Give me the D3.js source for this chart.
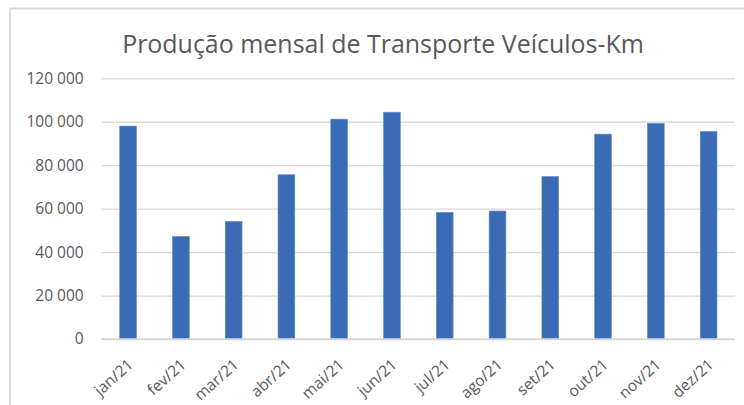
<!DOCTYPE html>
<html>
<head>
<meta charset="utf-8">
<script src="https://cdn.jsdelivr.net/npm/d3@7"></script>
<style>
  html, body { margin: 0; padding: 0; background: #fff; }
  svg { display: block; }
</style>
</head>
<body>
<svg id="chart" width="744" height="405"></svg>
<script>
const title = "Produção mensal de Transporte Veículos-Km";
const months = ["jan/21","fev/21","mar/21","abr/21","mai/21","jun/21","jul/21","ago/21","set/21","out/21","nov/21","dez/21"];
const values = [98000, 47200, 54100, 75600, 101200, 104400, 58300, 58900, 74800, 94300, 99200, 95500];
const yTicks = [0, 20000, 40000, 60000, 80000, 100000, 120000];

(function () {
const svg = d3.select("#chart");
const W = 744, H = 405;
const pL = 101.7, pR = 735, pT = 78.3, pB = 339;
const txtColor = "#595959", gridColor = "#d9d9d9";
const font = "'Open Sans', 'Noto Sans', sans-serif";

// frame border (top and left visible)
svg.append("line").attr("x1", 10).attr("x2", W).attr("y1", 8.5).attr("y2", 8.5)
  .attr("stroke", gridColor).attr("stroke-width", 2);
svg.append("line").attr("x1", 10).attr("x2", 10).attr("y1", 8.5).attr("y2", H)
  .attr("stroke", gridColor).attr("stroke-width", 2);

const x = d3.scaleBand().domain(months).range([pL, pR])
  .paddingInner(0.683).paddingOuter(0.3415);
const y = d3.scaleLinear().domain([0, 120000]).range([pB, pT]);

const fmt = v => d3.format(",")(v).replace(/,/g, " ");

// gridlines via axis
const yAxis = d3.axisLeft(y).tickValues(yTicks).tickSize(-(pR - pL)).tickFormat(fmt).tickPadding(18);
const gy = svg.append("g").attr("transform", `translate(${pL},0)`).call(yAxis);
gy.select(".domain").remove();
gy.selectAll(".tick line").attr("stroke", gridColor).attr("stroke-width", 1.3);
gy.selectAll(".tick text").attr("fill", txtColor).attr("font-family", font).attr("font-size", 15.5);

// bars
svg.append("g").selectAll("rect").data(values).join("rect")
  .attr("x", (d, i) => x(months[i]))
  .attr("width", x.bandwidth())
  .attr("y", d => y(d))
  .attr("height", d => y(0) - y(d))
  .attr("fill", "#3a6bb4")
  .attr("stroke", "#5f88c6").attr("stroke-width", 0.6);

// x axis
const xAxis = d3.axisBottom(x).tickSize(0).tickPadding(0);
const gx = svg.append("g").attr("transform", `translate(0,${pB})`).call(xAxis);
gx.select(".domain").attr("stroke", gridColor).attr("stroke-width", 1.3)
  .attr("d", `M${pL},0H${pR}`);
gx.selectAll(".tick text")
  .attr("fill", txtColor).attr("font-family", font).attr("font-size", 15.5)
  .attr("text-anchor", "end")
  .attr("dy", "0")
  .attr("transform", "translate(6,27) rotate(-42)");

// title
const t = svg.append("text").text(title)
  .attr("x", 383).attr("y", 53)
  .attr("text-anchor", "middle")
  .attr("fill", txtColor).attr("font-family", font).attr("font-size", 22);
const len = t.node().getComputedTextLength();
t.attr("font-size", 22 * 522 / len);
})();
</script>
</body>
</html>
